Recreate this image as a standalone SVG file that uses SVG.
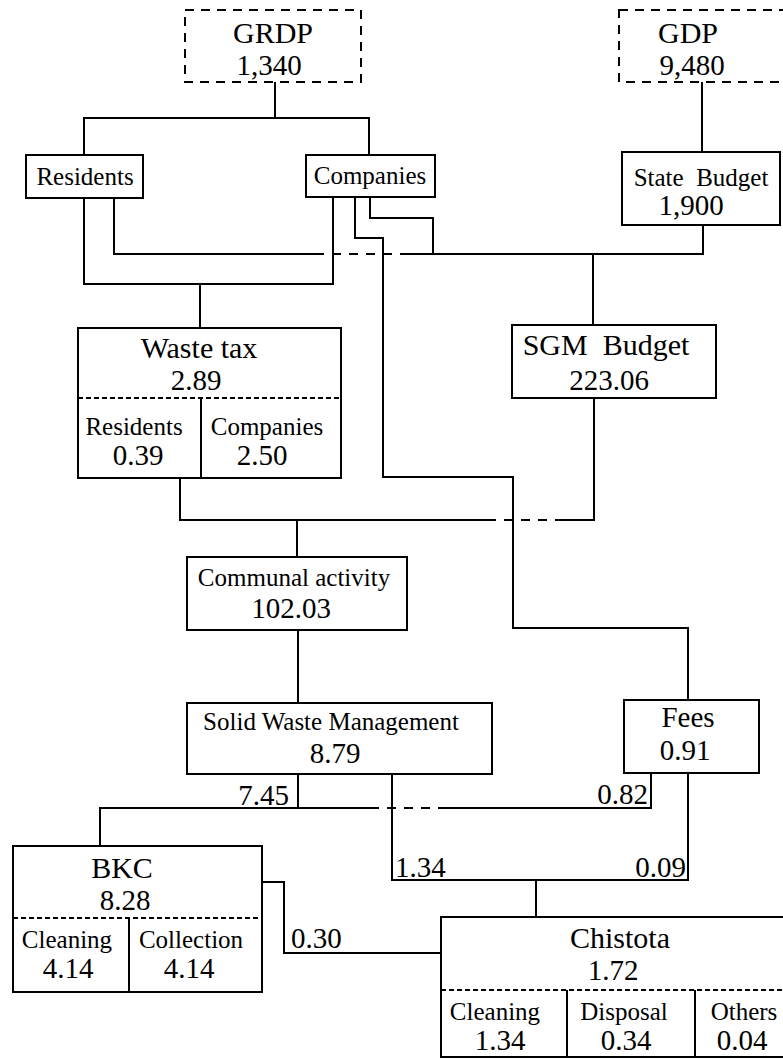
<svg xmlns="http://www.w3.org/2000/svg" width="783" height="1059" viewBox="0 0 783 1059">
<style>
.bg{fill:#fff}
.box{fill:#fff;stroke:#000;stroke-width:2}
.dbox{fill:#fff;stroke:#000;stroke-width:2;stroke-dasharray:9 7}
.ln{fill:none;stroke:#000;stroke-width:2}
.dl{fill:none;stroke:#000;stroke-width:2;stroke-dasharray:9 8}
.dv{fill:none;stroke:#000;stroke-width:2;stroke-dasharray:5 3}
text{font-family:"Liberation Serif","Times New Roman",serif;fill:#000;text-anchor:middle}
.t{font-size:30px}
.n{font-size:29px}
.s{font-size:25px}
.e{text-anchor:end}
.st{text-anchor:start}
</style>
<rect class="bg" x="0" y="0" width="783" height="1059"/>
<g id="connectors">
<path class="ln" d="M275,82 V118 M84,155 V118 H369 V155"/>
<path class="ln" d="M702,82 V152"/>
<path class="ln" d="M84,198 V284 H333 V197 M200,284 V328"/>
<path class="ln" d="M114,198 V254 H315 M405,254 H703 V225 M593,254 V325"/>
<path class="dl" d="M315,254 H405"/>
<path class="ln" d="M370,197 V218 H433 V254"/>
<path class="ln" d="M355,197 V238 H383 V477 H513 V628 H688 V700"/>
<path class="ln" d="M180,478 V520 H487 M562,520 H594 V398 M297,520 V557"/>
<path class="dl" d="M487,520 H562"/>
<path class="ln" d="M298,630 V703"/>
<path class="ln" d="M298,774 V808 H100 V846 M298,808 H370 M440,808 H651 V773"/>
<path class="dl" d="M370,808 H440"/>
<path class="ln" d="M392,774 V880 H688 V773 M536,880 V917"/>
<path class="ln" d="M262,882 H284 V953 H441"/>
<text class="n e" x="289" y="805">7.45</text>
<text class="n e" x="648" y="804">0.82</text>
<text class="n st" x="395" y="877">1.34</text>
<text class="n e" x="686" y="877">0.09</text>
<text class="n st" x="291" y="948">0.30</text>
</g>
<g id="grdp">
<rect class="dbox" x="185" y="10" width="176" height="72"/>
<text class="t" x="273" y="43">GRDP</text>
<text class="n" x="269" y="75">1,340</text>
</g>
<g id="gdp">
<rect class="dbox" x="619" y="10" width="180" height="72"/>
<text class="t" x="688" y="43">GDP</text>
<text class="n" x="692" y="75">9,480</text>
</g>
<g id="residents">
<rect class="box" x="26" y="155" width="117" height="43"/>
<text class="s" x="85" y="185">Residents</text>
</g>
<g id="companies">
<rect class="box" x="306" y="155" width="129" height="42"/>
<text class="s" x="370" y="184">Companies</text>
</g>
<g id="state-budget">
<rect class="box" x="622" y="152" width="158" height="73"/>
<text class="s" x="701" y="186" xml:space="preserve">State  Budget</text>
<text class="n" x="691" y="215">1,900</text>
</g>
<g id="waste-tax">
<rect class="box" x="78" y="328" width="263" height="150"/>
<path class="dv" d="M78,398 H341"/>
<path class="ln" d="M201,398 V478"/>
<text class="t" x="199" y="358">Waste tax</text>
<text class="n" x="196" y="390">2.89</text>
<text class="s" x="134" y="435">Residents</text>
<text class="n" x="138" y="465">0.39</text>
<text class="s" x="267" y="435">Companies</text>
<text class="n" x="262" y="465">2.50</text>
</g>
<g id="sgm-budget">
<rect class="box" x="512" y="325" width="204" height="73"/>
<text class="t" x="606" y="355" xml:space="preserve">SGM  Budget</text>
<text class="n" x="609" y="390">223.06</text>
</g>
<g id="communal-activity">
<rect class="box" x="187" y="557" width="220" height="73"/>
<text class="s" x="294" y="586">Communal activity</text>
<text class="n" x="291" y="618">102.03</text>
</g>
<g id="solid-waste-management">
<rect class="box" x="187" y="703" width="305" height="71"/>
<text class="s" x="331" y="730">Solid Waste Management</text>
<text class="n" x="335" y="763">8.79</text>
</g>
<g id="fees">
<rect class="box" x="624" y="700" width="135" height="73"/>
<text class="n" x="688" y="727">Fees</text>
<text class="n" x="685" y="760">0.91</text>
</g>
<g id="bkc">
<rect class="box" x="13" y="846" width="249" height="146"/>
<path class="dv" d="M13,918 H262"/>
<path class="ln" d="M129,918 V992"/>
<text class="t" x="122" y="878">BKC</text>
<text class="n" x="125" y="910">8.28</text>
<text class="s" x="67" y="948">Cleaning</text>
<text class="n" x="68" y="978">4.14</text>
<text class="s" x="191" y="948">Collection</text>
<text class="n" x="189" y="978">4.14</text>
</g>
<g id="chistota">
<rect class="box" x="441" y="917" width="350" height="140"/>
<path class="dv" d="M441,990 H791"/>
<path class="ln" d="M567,990 V1057 M695,990 V1057"/>
<text class="t" x="620" y="948">Chistota</text>
<text class="n" x="613" y="980">1.72</text>
<text class="s" x="495" y="1020">Cleaning</text>
<text class="n" x="500" y="1050">1.34</text>
<text class="s" x="624" y="1020">Disposal</text>
<text class="n" x="626" y="1050">0.34</text>
<text class="s" x="744" y="1020">Others</text>
<text class="n" x="742" y="1050">0.04</text>
</g>
</svg>
